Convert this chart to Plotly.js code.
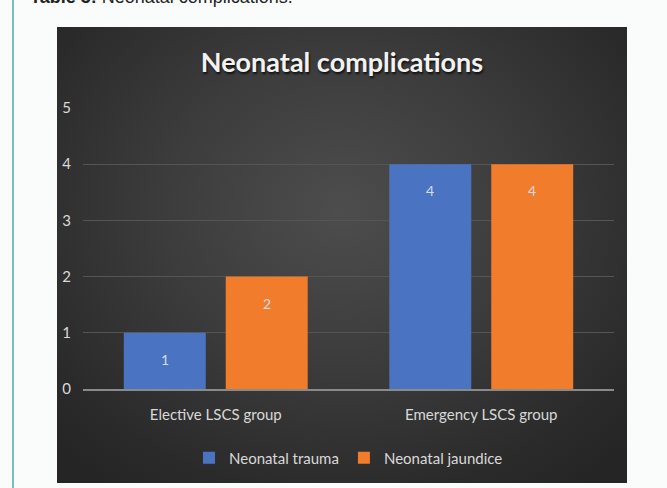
<!DOCTYPE html>
<html>
<head>
<meta charset="utf-8">
<script src="https://cdn.plot.ly/plotly-3.0.1.min.js"></script>
<style>
  html, body { margin: 0; padding: 0; width: 667px; height: 488px; overflow: hidden; background: #fafcfc; }
  #page { position: relative; width: 667px; height: 488px; overflow: hidden; }
  #bar { position: absolute; left: 12px; top: 0; width: 2px; height: 488px; background: #7fbcc0; }
  #cap { position: absolute; left: 30px; top: -12px; line-height: 18px; font-family: "Liberation Sans", Arial, sans-serif; font-size: 18px; color: #222; white-space: nowrap; }
  #chartbox { position: absolute; left: 57px; top: 27px; width: 570px; height: 456px;
    background: radial-gradient(ellipse 70% 75% at 50% 40%, #4d4d4d 0%, #3c3c3c 45%, #2a2a2a 85%, #252525 100%); }
  #chart { width: 570px; height: 456px; }
</style>
</head>
<body>
<div id="page">
  <div id="bar"></div>
  <div id="cap"><b>Table 3:</b> Neonatal complications.</div>
  <div id="chartbox"><div id="chart"></div></div>
</div>
<script>
const categories = ["Elective LSCS group", "Emergency LSCS group"];
const seriesNames = ["Neonatal trauma", "Neonatal jaundice"];
const neonatalTrauma = [1, 4];
const neonatalJaundice = [2, 4];
const yTicks = [0, 1, 2, 3, 4, 5];

const colors = ["#4a74c2", "#f07c2c"];
const series = [neonatalTrauma, neonatalJaundice];
const fontFam = 'Lato, "Open Sans", sans-serif';

const traces = series.map((vals, i) => ({
  type: "bar",
  name: seriesNames[i],
  x: categories,
  y: vals,
  marker: { color: colors[i], line: { width: 0 } },
  hoverinfo: "none"
}));

const annotations = [];
series.forEach((vals, i) => {
  vals.forEach((v, j) => {
    annotations.push({
      x: categories[j], y: v, xref: "x", yref: "y",
      text: String(v), showarrow: false,
      xshift: i === 0 ? -51 : 51, yshift: -16, yanchor: "top",
      font: { family: fontFam, size: 14, color: "#d6dbe6" }
    });
  });
});

const layout = {
  width: 570, height: 456,
  paper_bgcolor: "rgba(0,0,0,0)",
  plot_bgcolor: "rgba(0,0,0,0)",
  margin: { l: 26, r: 13, t: 81, b: 94, autoexpand: false },
  title: {
    text: "<b>Neonatal complications</b>",
    x: 0.5, xanchor: "center", y: 0.922, yanchor: "middle",
    font: { family: fontFam, size: 27, color: "#f2f2f2", shadow: "1px 2px 2px #111" }
  },
  barmode: "group",
  bargap: 0.232,
  bargroupgap: 0.196,
  showlegend: true,
  legend: {
    orientation: "h", x: 0.5, xanchor: "center",
    yref: "container", y: 0.055, yanchor: "middle",
    font: { family: fontFam, size: 15, color: "#d9d9d9" },
    itemwidth: 30, tracegroupgap: 0, itemclick: false
  },
  xaxis: {
    type: "category",
    showgrid: false, zeroline: false,
    showline: true, linecolor: "#8a8a8a", linewidth: 2,
    ticks: "", ticklabelstandoff: 11,
    tickfont: { family: fontFam, size: 15, color: "#d9d9d9" },
    fixedrange: true
  },
  yaxis: {
    range: [0, 5],
    tickvals: yTicks, ticktext: yTicks.map(String),
    showgrid: true, gridcolor: "#555555", gridwidth: 1,
    zeroline: false, showline: false, ticks: "",
    ticklabelstandoff: 11,
    tickfont: { family: fontFam, size: 15, color: "#d9d9d9" },
    fixedrange: true
  },
  annotations: annotations
};

Plotly.newPlot("chart", traces, layout, { displayModeBar: false, staticPlot: true });
</script>
</body>
</html>
